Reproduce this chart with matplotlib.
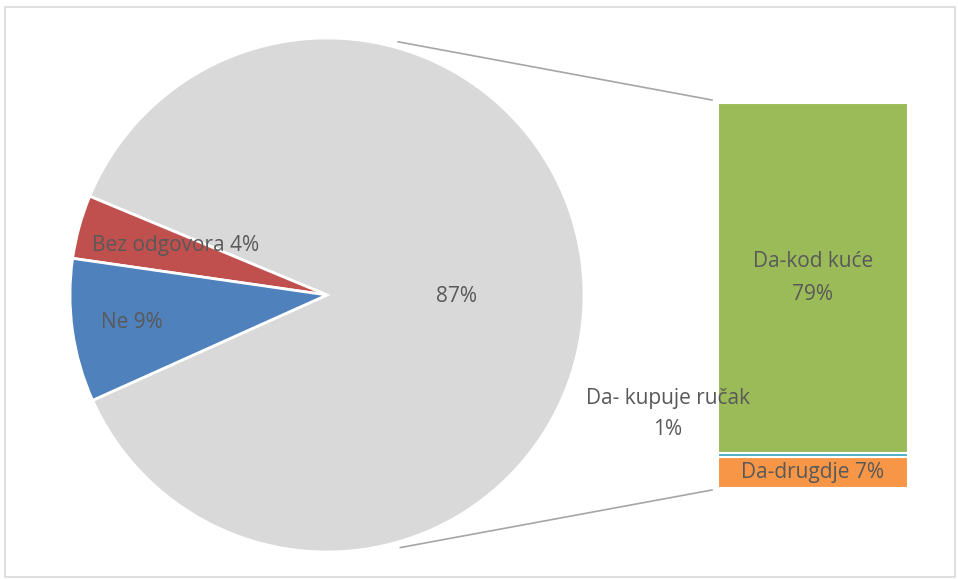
import numpy as np
import matplotlib.pyplot as plt
from matplotlib.patches import Rectangle

# pie: the three main answers
pie_labels = ['Ostalo (Da)', 'Bez odgovora', 'Ne']
pie_values = [87, 4, 9]
pie_colors = ['#D9D9D9', '#C0504D', '#4F81BD']

# bar: breakdown of "Da", bottom to top
bar_labels = ['Da-drugdje', 'Da- kupuje ručak', 'Da-kod kuće']
bar_values = [7, 1, 79]
bar_colors = ['#F79646', '#4BACC6', '#9BBB59']

W, H = 958, 579
fig = plt.figure(figsize=(W / 100, H / 100), dpi=100)
ax = fig.add_axes([0, 0, 1, 1])

plt.rcParams['font.family'] = ['Open Sans', 'DejaVu Sans']
txt = '#595959'
fs = 15

# pie
cx, cy, r = 327, 284, 257
start = -pie_values[0] / 100 * 360 / 2 + 0.8
ax.pie(pie_values, colors=pie_colors, startangle=start, counterclock=True,
       center=(cx, cy), radius=r, frame=True,
       wedgeprops=dict(edgecolor='white', linewidth=2))
ax.set_xlim(0, W)
ax.set_ylim(0, H)
ax.set_aspect('equal')
ax.axis('off')

# outer frame
ax.add_patch(Rectangle((5, 2), 950, 570, fill=False, edgecolor='#D9D9D9', lw=1.2))

ax.text(457, H - 297, f'{pie_values[0]}%', color=txt, fontsize=fs, ha='center', va='center')
ax.text(92, H - 245, f'{pie_labels[1]} {pie_values[1]}%', color=txt, fontsize=fs, ha='left', va='center')
ax.text(101, H - 322, f'{pie_labels[2]} {pie_values[2]}%', color=txt, fontsize=fs, ha='left', va='center')

# stacked bar
bx, bw = 718, 190
base = H - 488
scale = 385 / sum(bar_values)
bottoms = base + np.concatenate([[0], np.cumsum(bar_values)[:-1]]) * scale
heights = np.array(bar_values) * scale
ax.bar([bx] * 3, heights, width=bw, bottom=bottoms, align='edge',
       color=bar_colors, edgecolor='white', linewidth=1.5)

ax.text(bx + bw / 2, bottoms[0] + heights[0] / 2, f'{bar_labels[0]} {bar_values[0]}%',
        color=txt, fontsize=fs, ha='center', va='center')
ax.text(bx + bw / 2, bottoms[2] + heights[2] / 2, f'{bar_labels[2]}\n{bar_values[2]}%',
        color=txt, fontsize=fs, ha='center', va='center', linespacing=1.75)
ax.text(668, H - 414, f'{bar_labels[1]}\n{bar_values[1]}%',
        color=txt, fontsize=fs, ha='center', va='center', linespacing=1.65)

# connector lines
top = bottoms[-1] + heights[-1]
for ang, yb in [(74.3, top + 3), (-73.8, base - 2)]:
    a = np.radians(ang)
    ax.plot([cx + 263 * np.cos(a), bx - 6], [cy + 263 * np.sin(a), yb],
            color='#A6A6A6', lw=1.2)

fig.savefig('out.png', dpi=100)
